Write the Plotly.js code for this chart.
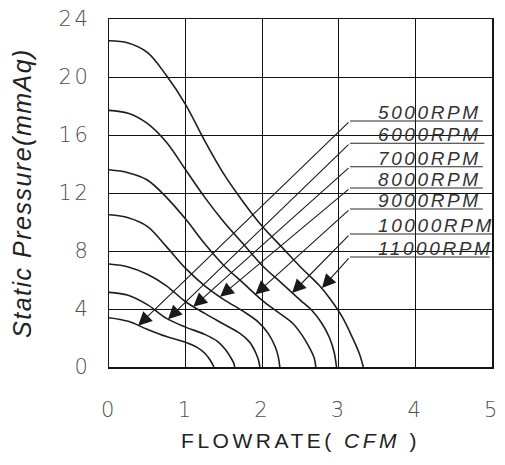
<!DOCTYPE html>
<html>
<head>
<meta charset="utf-8">
<script src="https://cdn.plot.ly/plotly-3.0.1.min.js"></script>
<style>
  html, body { margin: 0; padding: 0; background: #fff; }
  #chart { width: 505px; height: 465px; }
  .xtitle { letter-spacing: 3.5px; }
  .ytitle { letter-spacing: 1.5px; }
  .annotation-text { letter-spacing: 2.6px; }
  .xtick text, .ytick text { letter-spacing: 2.5px; }
</style>
</head>
<body>
<div id="chart"></div>
<script>
// ---- data ----
const flow5000  = [0, 0.25, 0.5, 0.75, 1.0, 1.15, 1.26, 1.33, 1.37];
const press5000 = [3.4, 3.15, 2.6, 2.1, 1.7, 1.35, 0.9, 0.4, 0];

const flow6000  = [0, 0.25, 0.5, 0.75, 1.0, 1.25, 1.42, 1.52, 1.59, 1.63, 1.64];
const press6000 = [5.15, 4.95, 4.3, 3.35, 2.75, 2.25, 1.75, 1.2, 0.65, 0.25, 0];

const flow7000  = [0, 0.25, 0.5, 0.75, 1.0, 1.25, 1.5, 1.7, 1.83, 1.91, 1.95, 1.97];
const press7000 = [7.1, 6.9, 6.4, 5.6, 4.5, 3.7, 2.95, 2.35, 1.75, 1.05, 0.5, 0];

const flow8000  = [0, 0.25, 0.5, 0.75, 1.0, 1.25, 1.5, 1.75, 1.95, 2.08, 2.17, 2.21, 2.23];
const press8000 = [10.5, 10.3, 9.7, 8.3, 6.8, 5.6, 4.65, 3.85, 3.1, 2.3, 1.4, 0.7, 0];

const flow9000  = [0, 0.25, 0.5, 0.75, 1.0, 1.25, 1.5, 1.75, 2.0, 2.2, 2.4, 2.52, 2.62, 2.68, 2.70];
const press9000 = [13.6, 13.4, 12.9, 11.7, 10.2, 8.5, 7.0, 5.8, 4.6, 3.8, 3.0, 2.2, 1.3, 0.6, 0];

const flow10000  = [0, 0.25, 0.5, 0.75, 1.0, 1.25, 1.5, 1.75, 2.0, 2.25, 2.5, 2.65, 2.78, 2.88, 2.94, 2.97];
const press10000 = [17.7, 17.5, 16.8, 15.5, 13.6, 11.7, 10.0, 8.5, 7.0, 5.8, 4.6, 3.9, 3.0, 2.0, 1.0, 0];

const flow11000  = [0, 0.25, 0.5, 0.75, 1.0, 1.25, 1.5, 1.75, 2.0, 2.25, 2.5, 2.75, 2.9, 3.05, 3.18, 3.27, 3.32];
const press11000 = [22.5, 22.35, 21.7, 20.1, 18.1, 15.6, 13.3, 11.4, 9.7, 8.3, 6.9, 5.6, 4.6, 3.4, 2.0, 0.9, 0];

const rpmLabels = ['5000RPM', '6000RPM', '7000RPM', '8000RPM', '9000RPM', '10000RPM', '11000RPM'];
// leader lines: arrow tip on curve, elbow and end of the underline (data units)
const tipFlow   = [0.38, 0.77, 1.10, 1.45, 1.91, 2.39, 2.78];
const tipPress  = [2.85, 3.3, 4.15, 4.85, 5.0, 5.1, 5.45];
const elbowFlow = [3.146, 3.146, 3.146, 3.146, 3.146, 3.146, 3.146];
const labelPress = [16.97, 15.43, 13.81, 12.34, 10.90, 9.17, 7.59];
const underlineEnd = [4.88, 4.9, 4.88, 4.88, 4.88, 5.0, 4.97];
const labelFlow = 3.49;

const xTicks = [0, 1, 2, 3, 4, 5];
const yTicks = [0, 4, 8, 12, 16, 20, 24];

// ---- traces ----
const curveSets = [
  [flow5000, press5000], [flow6000, press6000], [flow7000, press7000],
  [flow8000, press8000], [flow9000, press9000], [flow10000, press10000],
  [flow11000, press11000]
];
const traces = curveSets.map((c, i) => ({
  type: 'scatter', mode: 'lines', x: c[0], y: c[1], name: rpmLabels[i],
  line: { color: '#1e1e1e', width: 1.6, shape: 'spline', smoothing: 1 },
  hoverinfo: 'skip', showlegend: false
}));
rpmLabels.forEach((lab, i) => {
  traces.push({
    type: 'scatter', mode: 'lines',
    x: [elbowFlow[i], underlineEnd[i]], y: [labelPress[i], labelPress[i]],
    line: { color: '#2a2a2a', width: 1.1 }, hoverinfo: 'skip', showlegend: false
  });
});

const annotations = [];
rpmLabels.forEach((lab, i) => {
  annotations.push({
    x: tipFlow[i], y: tipPress[i], xref: 'x', yref: 'y',
    ax: elbowFlow[i], ay: labelPress[i], axref: 'x', ayref: 'y',
    text: '', showarrow: true, arrowhead: 2, arrowsize: 2.5, arrowwidth: 1.1,
    arrowcolor: '#1a1a1a', standoff: 0
  });
  annotations.push({
    x: labelFlow, y: labelPress[i], xref: 'x', yref: 'y',
    xanchor: 'left', yanchor: 'bottom', yshift: -4, showarrow: false,
    text: lab,
    font: { family: 'Liberation Sans, Arial, sans-serif', size: 19, color: '#333', style: 'italic' }
  });
});

const tickFont = { family: 'DejaVu Sans, sans-serif', size: 21, color: '#505050', weight: 200 };

const layout = {
  width: 505, height: 465,
  margin: { l: 109, r: 13, t: 19, b: 98 },
  paper_bgcolor: '#fff', plot_bgcolor: '#fff',
  showlegend: false,
  xaxis: {
    range: [0, 5], tickvals: xTicks, ticktext: xTicks.map(String),
    showgrid: true, gridcolor: '#111', gridwidth: 1,
    showline: true, linecolor: '#151515', linewidth: 1.5, mirror: true,
    zeroline: false, ticks: '', tickfont: tickFont, ticklabelstandoff: 23,
    title: { text: 'FLOWRATE( <i>CFM</i> )', standoff: 12,
             font: { family: 'Liberation Sans, Arial, sans-serif', size: 21, color: '#222' } },
    fixedrange: true
  },
  yaxis: {
    range: [0, 24], tickvals: yTicks, ticktext: yTicks.map(String),
    showgrid: true, gridcolor: '#111', gridwidth: 1,
    showline: true, linecolor: '#151515', linewidth: 1.5, mirror: true,
    zeroline: false, ticks: '', tickfont: tickFont, ticklabelstandoff: 13,
    title: { text: 'Static Pressure(mmAq)', standoff: 20,
             font: { family: 'Liberation Sans, Arial, sans-serif', size: 25, color: '#222', style: 'italic' } },
    fixedrange: true
  },
  annotations: annotations
};

Plotly.newPlot('chart', traces, layout, { displayModeBar: false, staticPlot: true });
</script>
</body>
</html>
